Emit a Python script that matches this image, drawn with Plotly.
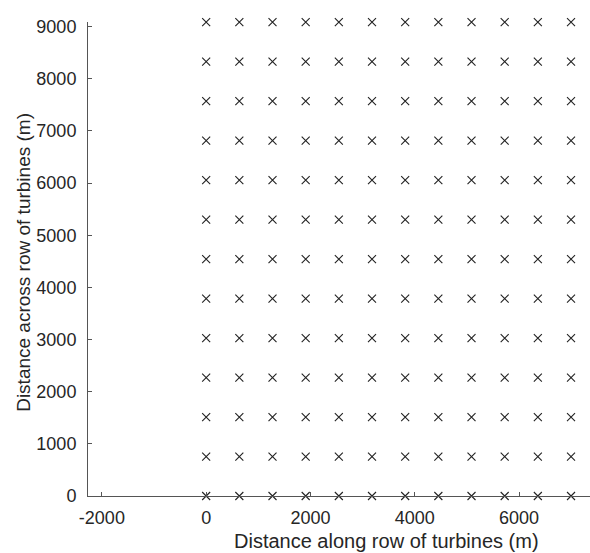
import plotly.graph_objects as go

# Turbine grid coordinates (m)
x_positions = [0, 636, 1272, 1908, 2544, 3180, 3816, 4452, 5088, 5724, 6360, 6996]
y_positions = [0, 757, 1514, 2271, 3028, 3785, 4542, 5299, 6056, 6813, 7570, 8327, 9084]

x_ticks = [-2000, 0, 2000, 4000, 6000]
x_tick_labels = ["-2000", "0", "2000", "4000", "6000"]
y_ticks = [0, 1000, 2000, 3000, 4000, 5000, 6000, 7000, 8000, 9000]

x_title = "Distance along row of turbines (m)"
y_title = "Distance across row of turbines (m)"

xs = [x for y in y_positions for x in x_positions]
ys = [y for y in y_positions for x in x_positions]

fig = go.Figure(go.Scatter(
    x=xs, y=ys, mode="markers",
    marker=dict(symbol="x-thin", size=8, line=dict(width=1.1, color="#222")),
    cliponaxis=False, hoverinfo="skip",
))

font = dict(family="Liberation Sans, Arial, sans-serif", color="#262626")
axis_common = dict(
    showline=True, linecolor="#555", linewidth=1,
    ticks="inside", ticklen=4, tickcolor="#555", tickwidth=1,
    showgrid=False, zeroline=False, mirror=False,
    tickfont=dict(size=18, **font),
)

fig.update_layout(
    width=590, height=553,
    margin=dict(l=88, r=0, t=22, b=57),
    paper_bgcolor="white", plot_bgcolor="white",
    showlegend=False,
    xaxis=dict(range=[-2266, 7360], tickvals=x_ticks, ticktext=x_tick_labels,
               ticklabelstandoff=5, **axis_common),
    yaxis=dict(range=[0, 9088], tickvals=y_ticks, ticklabelstandoff=7, **axis_common),
    annotations=[
        dict(text=x_title, xref="paper", yref="paper", x=0.594, y=-0.095,
             xanchor="center", yanchor="middle", showarrow=False,
             font=dict(size=20, **font)),
        dict(text=y_title, xref="paper", yref="paper", x=-0.1275, y=0.494,
             xanchor="center", yanchor="middle", showarrow=False, textangle=-90,
             font=dict(size=19, **font)),
    ],
)

fig.write_html("out.html", config={"displayModeBar": False},
               post_script="document.body.style.margin='0';")
